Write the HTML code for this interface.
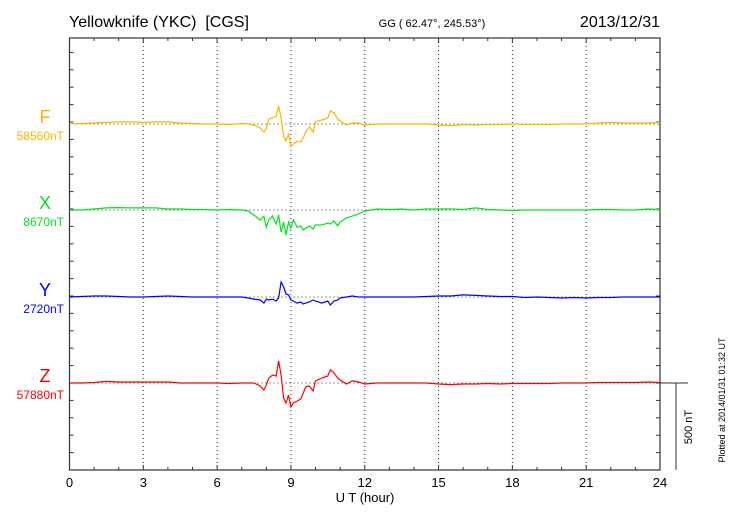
<!DOCTYPE html>
<html><head><meta charset="utf-8"><style>
html,body{margin:0;padding:0;background:#fff}
svg{display:block;font-family:"Liberation Sans",sans-serif}
</style></head><body>
<svg id="chart" width="730" height="520" viewBox="0 0 730 520" xmlns="http://www.w3.org/2000/svg">
<text x="69" y="27" font-size="16">Yellowknife (YKC)&#160; [CGS]</text>
<text x="432" y="27" font-size="11" text-anchor="middle">GG ( 62.47°, 245.53°)</text>
<text x="660" y="27" font-size="16" text-anchor="end">2013/12/31</text>
<g id="grid"></g>
<g id="axes"></g>
<g id="series"></g>
<text x="365" y="502" font-size="13" text-anchor="middle">U T (hour)</text>
<text transform="translate(692,427) rotate(-90)" font-size="11" text-anchor="middle">500 nT</text>
<text transform="translate(725,400) rotate(-90)" font-size="9" text-anchor="middle">Plotted at 2014/01/31 01:32 UT</text>
</svg>
<script>
const hours=[0,0.5,1,1.5,2,2.5,3,3.5,4,4.5,5,5.5,6,6.5,7,7.25,7.5,7.75,7.9,8.0,8.1,8.25,8.4,8.5,8.6,8.7,8.8,8.9,9.0,9.1,9.25,9.4,9.5,9.6,9.75,9.9,10,10.25,10.5,10.6,10.75,10.9,11,11.25,11.5,11.75,12,12.5,13,13.5,14,14.5,15,15.5,16,16.5,17,17.5,18,18.5,19,19.5,20,20.5,21,21.5,22,22.5,23,23.5,24];
const fValues=[0,3,6,9,12,12,9,12,12,6,3,0,0,-3,3,0,-6,-23,-46,-29,29,35,46,104,35,-69,-98,-58,-127,-115,-98,-104,-81,-46,-17,-46,12,23,35,75,63,29,17,-6,6,6,-6,0,0,0,0,0,-6,-9,-3,-6,-3,-3,0,-3,-3,-3,0,0,0,6,9,6,6,6,9];
const xValues=[0,0,6,12,14,12,12,12,6,6,3,3,0,3,0,-6,-29,-58,-35,-98,-58,-35,-81,-29,-127,-69,-144,-69,-104,-58,-98,-92,-115,-104,-92,-109,-86,-86,-75,-81,-63,-92,-69,-46,-35,-23,-6,6,3,6,0,6,6,6,3,12,3,0,-3,0,0,0,0,0,0,3,3,0,0,6,3];
const yValues=[0,3,6,6,3,0,0,3,6,3,0,0,0,0,0,-6,-12,-17,-35,-12,-17,-12,-23,-6,86,58,17,12,-17,-23,-35,-29,-40,-35,-29,-17,-23,-35,-23,-46,-23,-17,-6,0,6,0,0,0,0,0,0,3,6,6,12,9,6,3,3,-3,0,-3,-6,-3,-6,-3,-3,0,0,0,0];
const zValues=[0,0,3,9,6,6,6,6,6,0,0,0,0,-3,0,0,0,-17,-40,-12,29,46,40,127,46,-86,-115,-69,-138,-115,-104,-92,-58,-23,-17,-46,12,29,40,75,58,29,17,-6,12,6,-6,0,0,0,0,0,-6,-9,-6,-6,-3,-6,-3,-3,-3,-3,0,0,0,3,3,3,3,6,3];
const seriesNames=["F","X","Y","Z"];
const seriesLabels=["58560nT","8670nT","2720nT","57880nT"];
const xTicks=[0,3,6,9,12,15,18,21,24];

const NS="http://www.w3.org/2000/svg";
const L=69.5,R=660,T=38,B=470;
const PXNT=0.174;
const baselines=[124,210,297,383];
const colors=["#ffb300","#00e020","#0000ff","#ff0000"];
const xs=h=>L+(R-L)*h/24;
function mk(tag,attrs,parent){const e=document.createElementNS(NS,tag);for(const k in attrs)e.setAttribute(k,attrs[k]);parent.appendChild(e);return e;}
const grid=document.getElementById('grid'),axes=document.getElementById('axes'),ser=document.getElementById('series');
xTicks.slice(1,-1).forEach(h=>{
  const g=mk('line',{x1:xs(h),x2:xs(h),y1:T,y2:B,stroke:'#333','stroke-width':1,'stroke-dasharray':'1,3'},grid);
  
  
});
baselines.forEach(y=>{
  const g=mk('line',{x1:L,x2:R,y1:y,y2:y,stroke:'#333','stroke-width':1,'stroke-dasharray':'1,3'},grid);
  
  
});
const frame=mk('rect',{x:L,y:T,width:R-L,height:B-T,fill:'none',stroke:'#333','stroke-width':1.2},axes);


for(let h=1;h<24;h++){
  const len=(h%3===0)?5:3;
  mk('line',{x1:xs(h),x2:xs(h),y1:T,y2:T+len,stroke:'#333'},axes);
  mk('line',{x1:xs(h),x2:xs(h),y1:B,y2:B-len,stroke:'#333'},axes);
}
for(let k=1;k*17.4<B-T;k++){
  const y=B-k*17.4;
  mk('line',{x1:L,x2:L+4,y1:y,y2:y,stroke:'#333'},axes);
  mk('line',{x1:R,x2:R-4,y1:y,y2:y,stroke:'#333'},axes);
}
xTicks.forEach(h=>{
  const t=mk('text',{x:xs(h),y:487,'font-size':13,'text-anchor':'middle'},axes);
  t.textContent=h;
  
  
});
const sb1=mk('line',{x1:R,x2:688,y1:383,y2:383,stroke:'#333'},axes);


const sb2=mk('line',{x1:676,x2:676,y1:383,y2:383+500*PXNT,stroke:'#333'},axes);


const all=[fValues,xValues,yValues,zValues];
all.forEach((vals,i)=>{
  const d=vals.map((v,j)=>(j?'L':'M')+xs(hours[j]).toFixed(1)+','+(baselines[i]-v*PXNT).toFixed(1)).join(' ');
  const p=mk('path',{d:d,fill:'none',stroke:colors[i],'stroke-width':1.2},ser);
  
  
  const n=mk('text',{x:45,y:baselines[i]-1,'font-size':18,fill:colors[i],'text-anchor':'middle'},ser);
  n.textContent=seriesNames[i];
  
  
  const b=mk('text',{x:64,y:baselines[i]+16,'font-size':12,fill:colors[i],'text-anchor':'end'},ser);
  b.textContent=seriesLabels[i];
  
  
});
</script>
</body></html>
